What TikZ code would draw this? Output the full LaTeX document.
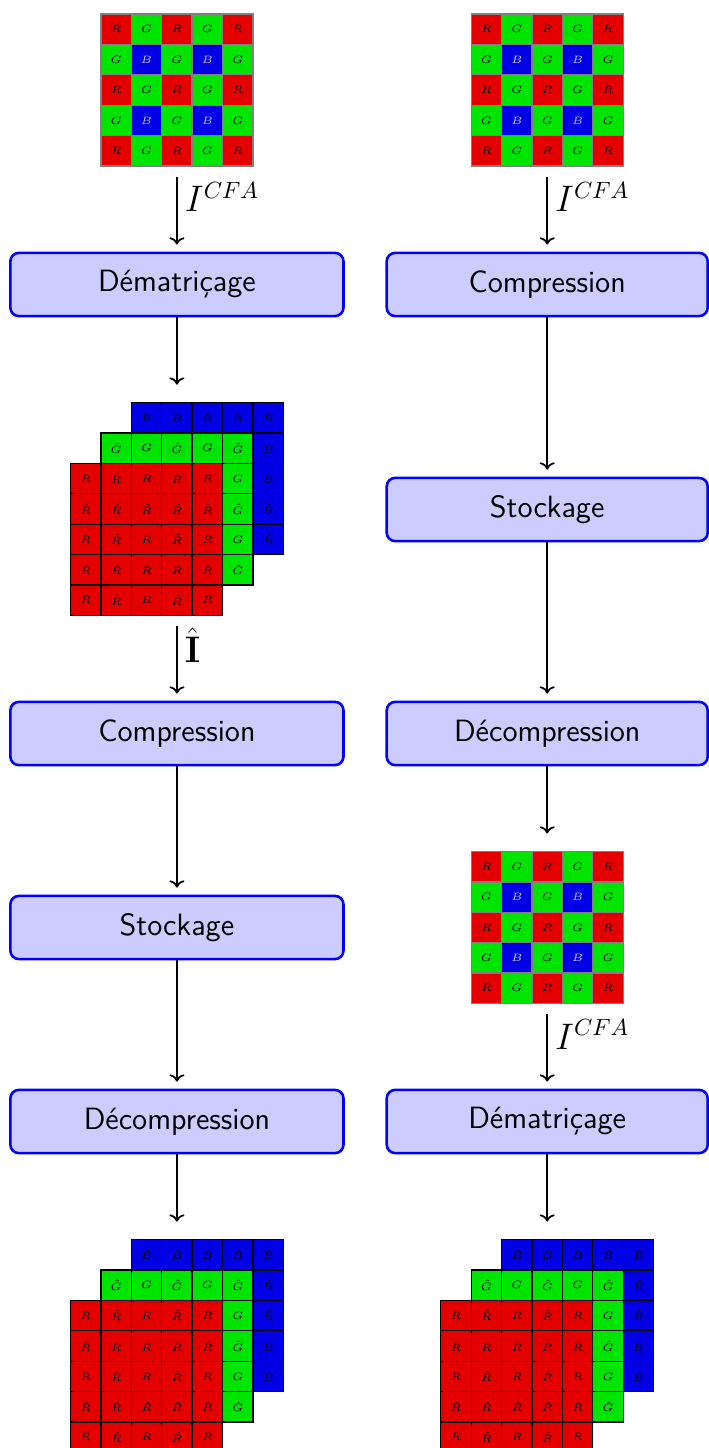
\documentclass[tikz,border=0pt]{standalone}
\usepackage{amsmath,amssymb}
\usepackage{xcolor}
\usepackage{tikz}
\usetikzlibrary{arrows.meta,positioning}

\colorlet{cfared}{red!90!black}
\colorlet{cfagreen}{green!90!black}
\colorlet{cfablue}{blue!90!black}
\colorlet{cfalight}{blue!20!white}

\tikzset{
  cfacell/.style={draw=gray, semithick},
  demcell/.style={draw=black, semithick},
  cellmark/.style={inner sep=0pt, font=\fontsize{5.5}{6.5}\selectfont},
  gridframe/.style={inner sep=0pt, outer sep=0pt, minimum size=#1},
}

% Bayer mosaic 5x5 (#1 = name prefix, #2 = centre)
\newcommand{\bayergrid}[2]{%
  \begin{scope}[shift={(#2)}]
    \foreach \r in {0,...,4}{
      \foreach \c in {0,...,4}{
        \pgfmathtruncatemacro{\kind}{mod(\r,2)+mod(\c,2)}
        \ifcase\kind \def\cellfill{cfared}\def\celltext{R}\def\cellink{black}%
        \or \def\cellfill{cfagreen}\def\celltext{G}\def\cellink{black}%
        \or \def\cellfill{cfablue}\def\celltext{B}\def\cellink{cfalight}\fi
        \filldraw[cfacell, fill=\cellfill] ({(\c-2)*0.5-0.25},{(2-\r)*0.5-0.25}) rectangle ++(0.5,0.5);
        \node[cellmark, text=\cellink] (#1-\r-\c) at ({(\c-2)*0.5},{(2-\r)*0.5}) {$\celltext$};
      }
    }
  \end{scope}}

% Demosaiced image, three stacked planes (#1 = name prefix, #2 = centre)
% only the visible cells of the back planes get a letter
\newcommand{\demgrid}[2]{%
  \begin{scope}[shift={(#2)}]
    % blue plane
    \foreach \r in {0,...,4}{
      \foreach \c in {0,...,4}{
        \filldraw[demcell, fill=cfablue] ({(\c-1)*0.5-0.25},{(3-\r)*0.5-0.25}) rectangle ++(0.5,0.5);
        \pgfmathtruncatemacro{\seen}{(\r==0)||(\c==4)}
        \ifnum\seen=1
          \node[cellmark] (#1-b-\r-\c) at ({(\c-1)*0.5},{(3-\r)*0.5}) {$\hat{B}$};
        \fi
      }
    }
    % green plane
    \foreach \r in {0,...,4}{
      \foreach \c in {0,...,4}{
        \filldraw[demcell, fill=cfagreen] ({(\c-2)*0.5-0.25},{(2-\r)*0.5-0.25}) rectangle ++(0.5,0.5);
        \pgfmathtruncatemacro{\seen}{(\r==0)||(\c==4)}
        \pgfmathtruncatemacro{\isplain}{mod(\r+\c,2)}
        \ifnum\isplain=1 \def\celltext{G}\else \def\celltext{\hat{G}}\fi
        \ifnum\seen=1
          \node[cellmark] (#1-g-\r-\c) at ({(\c-2)*0.5},{(2-\r)*0.5}) {$\celltext$};
        \fi
      }
    }
    % red plane
    \foreach \r in {0,...,4}{
      \foreach \c in {0,...,4}{
        \filldraw[demcell, fill=cfared] ({(\c-3)*0.5-0.25},{(1-\r)*0.5-0.25}) rectangle ++(0.5,0.5);
        \pgfmathtruncatemacro{\isplain}{(1-mod(\r,2))*(1-mod(\c,2))}
        \ifnum\isplain=1 \def\celltext{R}\else \def\celltext{\hat{R}}\fi
        \node[cellmark] (#1-r-\r-\c) at ({(\c-3)*0.5},{(1-\r)*0.5}) {$\celltext$};
      }
    }
  \end{scope}}

\begin{document}
\begin{tikzpicture}[
    procbox/.style={draw=blue, fill=blue!20, line width=1.2pt, rounded corners=4pt,
      minimum height=1.04cm, font=\Large\sffamily},
    flow/.style={->, thick, shorten >=3.3pt},
    flowlabel/.style={right, font=\fontsize{16}{19}\selectfont},
  ]
  \useasboundingbox (0,0) rectangle (11.661,-23.816);

  % Left chain: demosaicing first
  \node[gridframe=2.86cm] (cfaL) at (2.91,-1.48) {};
  \bayergrid{cfaL}{cfaL.center}
  \node[procbox, minimum width=5.48cm] (demL) at (2.91,-4.679) {Dématriçage};
  \node[gridframe=3.86cm] (imgL) at (2.91,-8.372) {};
  \demgrid{imgL}{imgL.center}
  \node[procbox, minimum width=5.48cm] (compL) at (2.91,-12.064) {Compression};
  \node[procbox, minimum width=5.48cm] (stoL) at (2.91,-15.255) {Stockage};
  \node[procbox, minimum width=5.48cm] (decL) at (2.91,-18.446) {Décompression};
  \node[gridframe=3.86cm] (outL) at (2.91,-22.138) {};
  \demgrid{outL}{outL.center}

  % Right chain: compression of the CFA image first
  \node[gridframe=2.86cm] (cfaR) at (9.0,-1.48) {};
  \bayergrid{cfaR}{cfaR.center}
  \node[procbox, minimum width=5.28cm] (compR) at (9.0,-4.679) {Compression};
  \node[procbox, minimum width=5.28cm] (stoR) at (9.0,-8.38) {Stockage};
  \node[procbox, minimum width=5.28cm] (decR) at (9.0,-12.064) {Décompression};
  \node[gridframe=2.86cm] (cfaM) at (9.0,-15.255) {};
  \bayergrid{cfaM}{cfaM.center}
  \node[procbox, minimum width=5.28cm] (demR) at (9.0,-18.446) {Dématriçage};
  \node[gridframe=3.86cm] (outR) at (9.0,-22.138) {};
  \demgrid{outR}{outR.center}

  % Left arrows
  \draw[flow] (cfaL) -- node[flowlabel, pos=0.27] (lblL) {$I^{CFA}$} (demL);
  \draw[flow] (demL) -- (imgL);
  \draw[flow] (imgL) -- node[flowlabel, pos=0.25] (lblH) {$\hat{\mathbf{I}}$} (compL);
  \draw[flow] (compL) -- (stoL);
  \draw[flow] (stoL) -- (decL);
  \draw[flow] (decL) -- (outL);

  % Right arrows
  \draw[flow] (cfaR) -- node[flowlabel, pos=0.27] (lblR) {$I^{CFA}$} (compR);
  \draw[flow] (compR) -- (stoR);
  \draw[flow] (stoR) -- (decR);
  \draw[flow] (decR) -- (cfaM);
  \draw[flow] (cfaM) -- node[flowlabel, pos=0.27] (lblM) {$I^{CFA}$} (demR);
  \draw[flow] (demR) -- (outR);
\end{tikzpicture}
\end{document}
